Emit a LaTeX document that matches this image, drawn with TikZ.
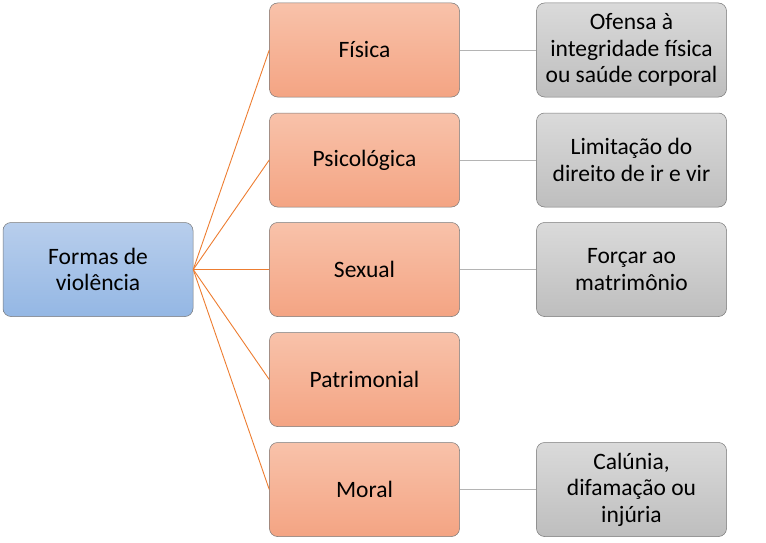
\documentclass[tikz,border=0pt]{standalone}
\usepackage{fontspec}
\setmainfont{Carlito}
\definecolor{btop}{RGB}{184,206,236}
\definecolor{bbot}{RGB}{148,183,228}
\definecolor{otop}{RGB}{248,194,170}
\definecolor{obot}{RGB}{244,164,131}
\definecolor{gtop}{RGB}{218,218,218}
\definecolor{gbot}{RGB}{190,190,190}
\definecolor{edge}{RGB}{120,120,120}
\definecolor{oline}{RGB}{237,125,49}
\definecolor{gline}{RGB}{180,180,180}
\tikzset{
  box/.style={rounded corners=8pt, draw=edge, line width=0.5pt,
    minimum width=190pt, minimum height=94pt, align=center,
    font=\fontsize{23.5}{26.5}\selectfont, inner sep=1pt},
  bluebox/.style={box, top color=btop, bottom color=bbot},
  orbox/.style={box, top color=otop, bottom color=obot},
  grbox/.style={box, top color=gtop, bottom color=gbot},
  oconn/.style={draw=oline, line width=0.9pt},
  gconn/.style={draw=gline, line width=0.9pt}
}
\begin{document}
\begin{tikzpicture}[x=1pt,y=-1pt]
\useasboundingbox (0,0) rectangle (766,543);
\node[bluebox] (root) at (98,269.5) {Formas de\\violência};
\node[orbox] (m1) at (364.5,50) {Física};
\node[orbox] (m2) at (364.5,160) {Psicológica};
\node[orbox] (m3) at (364.5,269.5) {Sexual};
\node[orbox] (m4) at (364.5,379.5) {Patrimonial};
\node[orbox] (m5) at (364.5,489.5) {Moral};
\node[grbox] (r1) at (631.5,50) {Ofensa à\\integridade física\\ou saúde corporal};
\node[grbox] (r2) at (631.5,160) {Limitação do\\direito de ir e vir};
\node[grbox] (r3) at (631.5,269.5) {Forçar ao\\matrimônio};
\node[grbox] (r5) at (631.5,489.5) {Calúnia,\\difamação ou\\injúria};
\foreach \m in {m1,m2,m3,m4,m5} \draw[oconn] (root.east) -- (\m.west);
\draw[gconn] (m1.east) -- (r1.west);
\draw[gconn] (m2.east) -- (r2.west);
\draw[gconn] (m3.east) -- (r3.west);
\draw[gconn] (m5.east) -- (r5.west);
\end{tikzpicture}
\end{document}
